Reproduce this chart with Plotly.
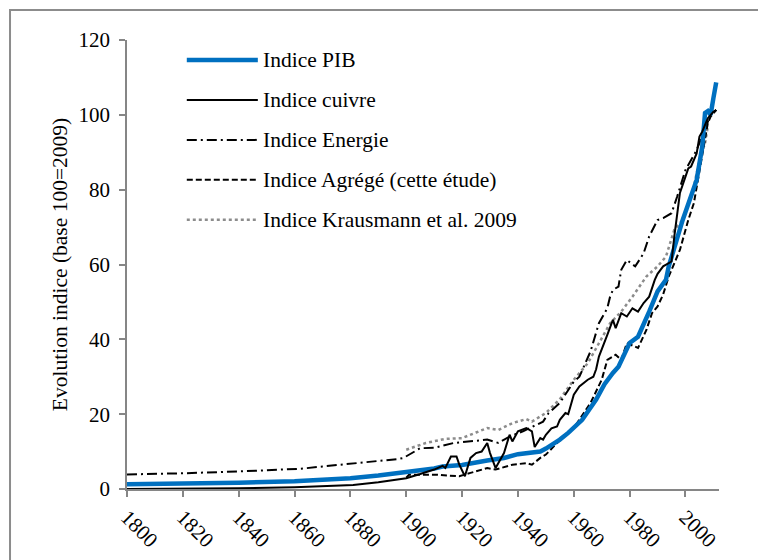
import plotly.graph_objects as go

# Indice PIB
pib_years = [1800, 1820, 1840, 1860, 1870, 1880, 1890, 1900, 1910, 1913, 1920, 1929, 1935, 1940,
             1948, 1950, 1955, 1958, 1963, 1968, 1971, 1974, 1976, 1980, 1983, 1987, 1990, 1993,
             1994, 1999, 2004, 2006, 2007, 2008, 2009, 2010, 2011]
pib_values = [1.3, 1.4, 1.7, 2.1, 2.4, 2.9, 3.6, 4.4, 5.5, 6.0, 6.4, 7.6, 8.3, 9.3,
              10.0, 10.8, 13.2, 15.0, 18.5, 23.9, 28.0, 31.0, 32.7, 39.0, 40.7, 47.4, 52.8, 55.9,
              59.5, 71.9, 82.6, 91.5, 100.5, 101.0, 100.0, 104.5, 108.7]

# Indice cuivre
cuivre_years = [1800, 1820, 1840, 1860, 1870, 1881, 1890, 1897, 1900, 1905, 1907, 1910, 1913, 1914,
                1916, 1918, 1919, 1921, 1923, 1925, 1927, 1929, 1930, 1932, 1935, 1937, 1938, 1940,
                1943, 1945, 1946, 1948, 1949, 1950, 1952, 1954, 1955, 1957, 1958, 1959, 1960, 1962,
                1965, 1967, 1968, 1969, 1971, 1972, 1974, 1975, 1977, 1979, 1981, 1983, 1985, 1987,
                1989, 1990, 1992, 1995, 1996, 1997, 1998, 2000, 2001, 2002, 2004, 2005, 2006, 2008,
                2009, 2010, 2011]
cuivre_values = [0.0, 0.1, 0.2, 0.5, 0.7, 1.1, 1.8, 2.5, 2.9, 4.0, 4.5, 5.2, 6.2, 5.6,
                 8.7, 8.7, 6.5, 3.4, 8.3, 9.6, 10.0, 12.3, 9.6, 5.6, 9.6, 14.5, 12.7, 15.4,
                 16.3, 15.4, 11.2, 13.6, 13.2, 14.5, 16.2, 16.7, 18.5, 20.3, 20.0, 22.5, 25.2, 27.4,
                 29.2, 30.0, 32.0, 35.4, 39.0, 41.2, 45.2, 43.0, 47.0, 46.1, 48.3, 47.4, 49.7, 51.4,
                 55.9, 57.5, 59.5, 60.8, 67.5, 73.7, 79.1, 83.5, 85.7, 86.2, 89.7, 94.2, 95.5, 99.1,
                 100.0, 100.8, 101.3]

# Indice Energie
energie_years = [1800, 1820, 1840, 1862, 1870, 1881, 1890, 1897, 1899, 1905, 1910, 1917, 1923, 1929,
                 1933, 1937, 1942, 1946, 1949, 1951, 1955, 1960, 1962, 1966, 1969, 1972, 1973, 1974,
                 1976, 1977, 1979, 1982, 1985, 1987, 1990, 1992, 1995, 1997, 2000, 2004, 2007, 2009,
                 2011]
energie_values = [3.9, 4.2, 4.7, 5.4, 6.0, 6.9, 7.5, 8.0, 8.3, 10.9, 11.0, 12.3, 12.7, 13.2,
                  12.3, 14.0, 15.5, 17.0, 18.0, 20.3, 23.0, 28.7, 30.0, 36.8, 44.3, 48.3, 51.4, 53.2,
                  54.1, 58.6, 61.2, 59.5, 63.0, 67.5, 71.9, 72.4, 73.7, 78.1, 85.3, 90.6, 96.0, 100.0,
                  101.3]

# Indice Agrégé (cette étude)
agrege_years = [1900, 1901, 1911, 1919, 1923, 1929, 1932, 1938, 1943, 1945, 1948, 1950, 1954, 1960,
                1966, 1970, 1972, 1975, 1977, 1979, 1983, 1986, 1988, 1990, 1992, 1994, 1998, 2001,
                2003, 2005, 2007, 2008, 2009, 2011]
agrege_values = [3.0, 3.8, 3.8, 3.4, 4.3, 5.6, 5.2, 6.5, 6.9, 6.5, 8.3, 9.2, 12.3, 16.3,
                 23.0, 29.2, 34.5, 35.9, 34.5, 39.0, 37.7, 42.5, 47.0, 48.8, 52.0, 56.8, 63.9, 71.9,
                 76.4, 85.3, 93.3, 97.8, 99.5, 101.3]

# Indice Krausmann et al. 2009
kraus_years = [1900, 1907, 1914, 1920, 1925, 1929, 1933, 1938, 1943, 1945, 1948, 1950, 1955, 1960,
               1965, 1969, 1973, 1977, 1981, 1986, 1990, 1993, 1996, 1999, 2003, 2005, 2007, 2008]
kraus_values = [10.5, 12.3, 13.4, 13.6, 15.1, 16.3, 15.8, 17.6, 18.7, 18.0, 19.4, 20.3, 24.0, 29.2,
                33.6, 39.0, 44.3, 47.4, 51.4, 56.8, 59.5, 62.1, 69.3, 71.9, 80.8, 88.0, 92.4, 96.9]

x_ticks = list(range(1800, 2001, 20))
y_ticks = list(range(0, 121, 20))

styles = {
    "Indice Krausmann et al. 2009": dict(color="#8c8c8c", width=2.5, dash="dot"),
    "Indice Agrégé (cette étude)": dict(color="black", width=2, dash="6px,3px"),
    "Indice Energie": dict(color="black", width=2, dash="10px,4px,2px,4px"),
    "Indice cuivre": dict(color="black", width=2, dash="solid"),
    "Indice PIB": dict(color="#0070C0", width=4.5, dash="solid"),
}

data = [
    ("Indice Krausmann et al. 2009", kraus_years, kraus_values),
    ("Indice Agrégé (cette étude)", agrege_years, agrege_values),
    ("Indice Energie", energie_years, energie_values),
    ("Indice PIB", pib_years, pib_values),
    ("Indice cuivre", cuivre_years, cuivre_values),
]

fig = go.Figure()
for name, xs, ys in data:
    fig.add_trace(go.Scatter(x=xs, y=ys, mode="lines", name=name, line=styles[name]))

font = "Liberation Serif"
axis_color = "#868686"

# hand-drawn legend, like the original (long line samples)
legend_order = ["Indice PIB", "Indice cuivre", "Indice Energie",
                "Indice Agrégé (cette étude)", "Indice Krausmann et al. 2009"]
shapes = []
annotations = []
for i, name in enumerate(legend_order):
    yy = 0.9555 - i * 0.089
    st = styles[name]
    shapes.append(dict(type="line", xref="paper", yref="paper", x0=0.101, x1=0.221, y0=yy, y1=yy,
                       line=dict(color=st["color"], width=st["width"], dash=st["dash"])))
    annotations.append(dict(text=name, xref="paper", yref="paper", x=0.226, y=yy,
                            xanchor="left", yanchor="middle", showarrow=False,
                            font=dict(family=font, size=21.5, color="black")))

# outer frame
shapes.append(dict(type="rect", xref="paper", yref="paper", x0=-0.1976, x1=1.3, y0=-0.3, y1=1.0668,
                   line=dict(color="#8c8c8c", width=2), layer="below"))

# the page has an 8px body margin, so the plot box is shifted up/left by 8px
fig.update_layout(
    width=766, height=560,
    margin=dict(l=119, r=55, t=32, b=79),
    paper_bgcolor="white", plot_bgcolor="white",
    showlegend=False,
    font=dict(family=font, size=21, color="black"),
    shapes=shapes,
    annotations=annotations,
    xaxis=dict(range=[1800, 2012], tickvals=x_ticks, tickangle=45,
               showline=True, linecolor=axis_color, linewidth=1.5,
               ticks="outside", tickcolor=axis_color, ticklen=6, tickwidth=1.5,
               showgrid=False, zeroline=False, tickfont=dict(family=font, size=21)),
    yaxis=dict(range=[0, 120], tickvals=y_ticks,
               showline=True, linecolor=axis_color, linewidth=1.5,
               ticks="outside", tickcolor=axis_color, ticklen=6, tickwidth=1.5,
               ticklabelstandoff=5,
               showgrid=False, zeroline=False, tickfont=dict(family=font, size=21),
               title=dict(text="Evolution indice (base 100=2009)", font=dict(family=font, size=21.5),
                          standoff=5)),
)

fig.write_html("out.html")
